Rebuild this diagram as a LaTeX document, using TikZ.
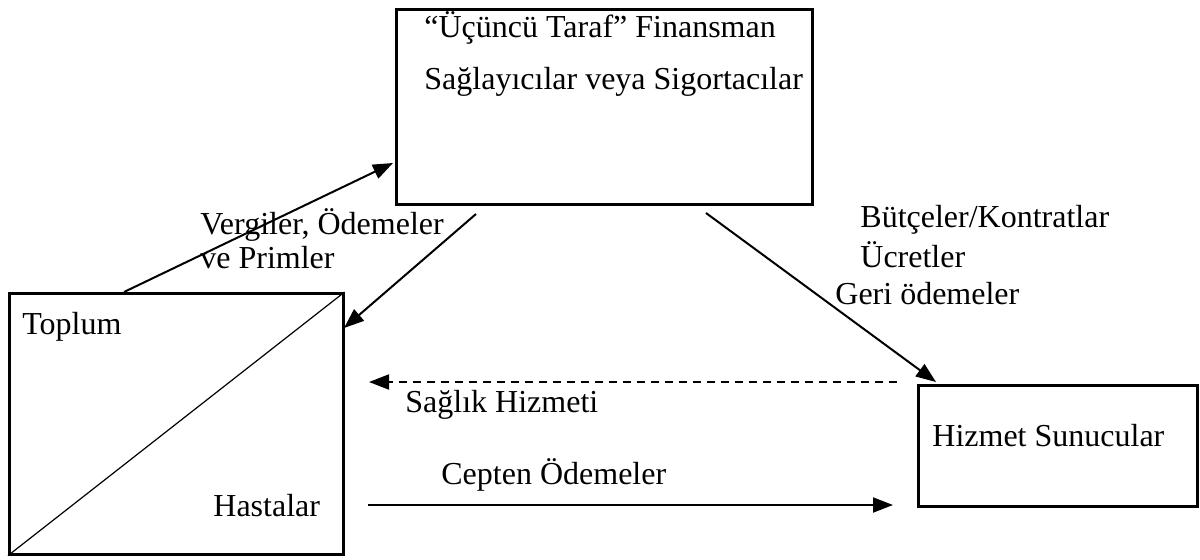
\documentclass[tikz,border=0pt]{standalone}
\usepackage{fontspec}
\setmainfont{Liberation Serif}
\usetikzlibrary{arrows.meta}
\tikzset{
  box/.style={draw, line width=1.3pt, inner sep=0pt, anchor=north west},
  lbl/.style={anchor=west, inner sep=0pt, font=\fontsize{16}{19}\selectfont},
  flow/.style={line width=1pt, -{Triangle[length=10pt,width=7.5pt]}},
}
\begin{document}
\begin{tikzpicture}[x=0.5pt,y=-0.5pt]
\useasboundingbox (0,0) rectangle (1200,559);
% boxes
\node[box, minimum width=208pt, minimum height=97.5pt] (fin) at (395,8) {};
\node[box, minimum width=167pt, minimum height=130.5pt] (soc) at (8,292) {};
\node[box, minimum width=139.5pt, minimum height=60.5pt] (prov) at (917,384) {};
\draw[line width=0.6pt] (soc.south west) -- (soc.north east);
% box texts
\node[lbl] (fintitle) at (424,28) {“Üçüncü Taraf” Finansman};
\node[lbl] (finsub) at (424,82) {Sağlayıcılar veya Sigortacılar};
\node[lbl] (toplum) at (22,327) {Toplum};
\node[lbl] (hasta) at (213,506) {Hastalar};
\node[lbl] (hizmet) at (932,436) {Hizmet Sunucular};
% arrow ends
\coordinate (taxstart) at (124,292);
\coordinate (taxend) at (393,163);
\coordinate (backstart) at (476,214);
\coordinate (backend) at (344,328);
\coordinate (paystart) at (706,213);
\coordinate (payend) at (936,382);
\coordinate (carestart) at (897,382);
\coordinate (careend) at (369,382);
\coordinate (oopstart) at (368,505);
\coordinate (oopend) at (893,505);
% flows
\draw[flow] (taxstart) -- (taxend);
\draw[flow] (backstart) -- (backend);
\draw[flow] (paystart) -- (payend);
\draw[flow, dash pattern=on 4pt off 3pt] (carestart) -- (careend);
\draw[flow] (oopstart) -- (oopend);
% flow labels
\node[lbl] (tax1) at (200,225) {Vergiler, Ödemeler};
\node[lbl] (tax2) at (200,258) {ve Primler};
\node[lbl] (pay1) at (860,220) {Bütçeler/Kontratlar};
\node[lbl] (pay2) at (860,255) {Ücretler};
\node[lbl] (pay3) at (835,294) {Geri ödemeler};
\node[lbl] (care) at (405,405) {Sağlık Hizmeti};
\node[lbl] (oop) at (441,475) {Cepten Ödemeler};
\end{tikzpicture}
\end{document}
